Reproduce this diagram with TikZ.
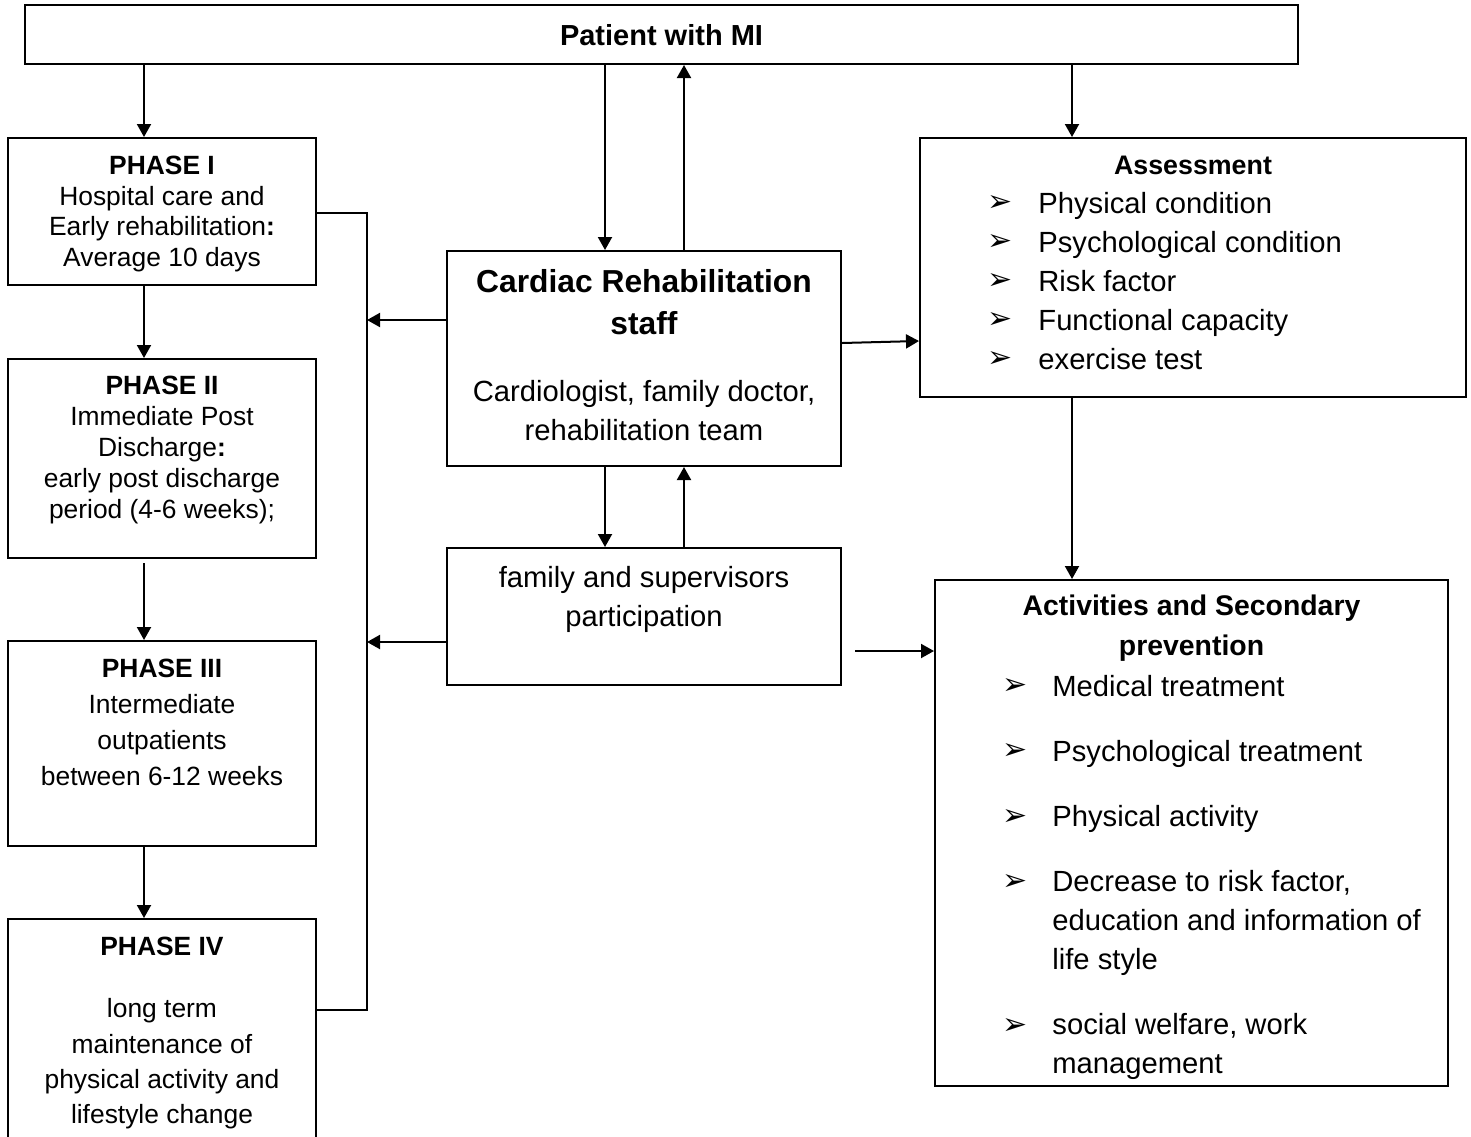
\documentclass[tikz,border=0pt]{standalone}
\usepackage{fontspec}
\setmainfont{Liberation Sans}
\newfontfamily\symfont{DejaVu Sans}
\usetikzlibrary{arrows.meta}

\tikzset{
  box/.style={draw, line width=1pt, inner sep=0pt},
  arr/.style={-{Triangle[length=6.5pt,width=7pt]}, line width=1pt},
  phtxt/.style={align=center, inner sep=0pt, font=\fontsize{13.2}{15.4}\selectfont},
  bodytxt/.style={align=center, inner sep=0pt, font=\fontsize{14.6}{19.5}\selectfont},
  listtxt/.style={align=left, anchor=west, inner sep=0pt, font=\fontsize{14.6}{19.5}\selectfont},
  bullet/.style={inner sep=0pt, font=\symfont\fontsize{15}{15}\selectfont},
}

\begin{document}
\begin{tikzpicture}[x=0.5pt, y=-0.5pt]
\useasboundingbox (0,0) rectangle (1471,1136);
\clip (0,0) rectangle (1471,1136);

% boxes
\node[box, minimum width=636.5pt, minimum height=29.5pt] (top) at (661.5,34.5) {};
\node[box, minimum width=154pt, minimum height=73.5pt] (ph1) at (162,211.5) {};
\node[box, minimum width=154pt, minimum height=99.5pt] (ph2) at (162,458.5) {};
\node[box, minimum width=154pt, minimum height=102.5pt] (ph3) at (162,743.5) {};
\node[box, minimum width=154pt, minimum height=120.5pt] (ph4) at (162,1039.5) {};
\node[box, minimum width=197pt, minimum height=107.5pt] (staff) at (644,358.5) {};
\node[box, minimum width=197pt, minimum height=68.5pt] (fam) at (644,616.5) {};
\node[box, minimum width=273pt, minimum height=129.5pt] (assess) at (1193,267.5) {};
\node[box, minimum width=256.5pt, minimum height=253pt] (act) at (1191.5,833) {};

% texts
\node[bodytxt, font=\bfseries\fontsize{14.5}{17}\selectfont] (toptxt) at (661.5,35) {Patient with MI};
\node[phtxt] (ph1txt) at (162,214) {\textbf{PHASE I}\\Hospital care and\\Early rehabilitation\textbf{:}\\Average 10 days};
\node[phtxt] (ph2txt) at (162,450) {\textbf{PHASE II}\\Immediate Post\\Discharge\textbf{:}\\early post discharge\\period (4-6 weeks);};
\node[phtxt, font=\fontsize{13.2}{18}\selectfont] (ph3txt) at (162,722) {\textbf{PHASE III}\\Intermediate\\outpatients\\between 6-12 weeks};
\node[phtxt, font=\bfseries\fontsize{13.2}{15.4}\selectfont] (ph4head) at (162,946) {PHASE IV};
\node[phtxt, font=\fontsize{13.2}{17.65}\selectfont] (ph4txt) at (162,1064) {long term\\maintenance of\\physical activity and\\lifestyle change};
\node[bodytxt, font=\bfseries\fontsize{15.9}{21}\selectfont] (staffhead) at (644,302) {Cardiac Rehabilitation\\staff};
\node[bodytxt] (stafftxt) at (644,411) {Cardiologist, family doctor,\\rehabilitation team};
\node[bodytxt] (famtxt) at (644,599) {family and supervisors\\participation};
\node[bodytxt, font=\bfseries\fontsize{13.4}{15}\selectfont] (assesshead) at (1193,165) {Assessment};
\node[listtxt] (assesstxt) at (1038,281) {Physical condition\\Psychological condition\\Risk factor\\Functional capacity\\exercise test};
\node[bodytxt, font=\bfseries\fontsize{14.2}{20}\selectfont] (acthead) at (1191.5,628) {Activities and Secondary\\prevention};
\node[listtxt] (acttxt) at (1052,877) {Medical treatment\\[13pt]Psychological treatment\\[13pt]Physical activity\\[13pt]Decrease to risk factor,\\education and information of\\life style\\[13pt]social welfare, work\\management};

% bullets
\foreach \yy [count=\i] in {203,242,281,320,359}
  \node[bullet] (ab\i) at (1000,\yy) {➢};
\foreach \yy [count=\i] in {686,751,817,882,1026}
  \node[bullet] (cb\i) at (1015,\yy) {➢};

% helper coordinates
\coordinate (lx) at (144,0);
\coordinate (sx1) at (605,0);
\coordinate (sx2) at (684,0);
\coordinate (ax) at (1072,0);
\coordinate (br1) at (367,213);
\coordinate (br2) at (367,1010);
\coordinate (r1) at (0,320);
\coordinate (r2) at (0,642);
\coordinate (r3) at (0,343);
\coordinate (r3b) at (0,341);
\coordinate (f4) at (855,651);

% phase chain
\draw[arr] (top.south -| lx) -- (ph1.north -| lx);
\draw[arr] (ph1.south -| lx) -- (ph2.north -| lx);
\draw[arr] ([yshift=-2pt]ph2.south -| lx) -- (ph3.north -| lx);
\draw[arr] (ph3.south -| lx) -- (ph4.north -| lx);

% bracket
\draw[line width=1pt] (ph1.east |- br1) -- (br1) -- (br2) -- (ph4.east |- br2);

% staff links
\draw[arr] (top.south -| sx1) -- (staff.north -| sx1);
\draw[arr] (staff.north -| sx2) -- (top.south -| sx2);
\draw[arr] (staff.south -| sx1) -- (fam.north -| sx1);
\draw[arr] (fam.north -| sx2) -- (staff.south -| sx2);
\draw[arr] (staff.west |- r1) -- (br1 |- r1);
\draw[arr] (fam.west |- r2) -- (br1 |- r2);
\draw[arr] (staff.east |- r3) -- (assess.west |- r3b);
\draw[arr] (f4) -- (act.west |- f4);

% assessment
\draw[arr] (top.south -| ax) -- (assess.north -| ax);
\draw[arr] (assess.south -| ax) -- (act.north -| ax);
\end{tikzpicture}
\end{document}
